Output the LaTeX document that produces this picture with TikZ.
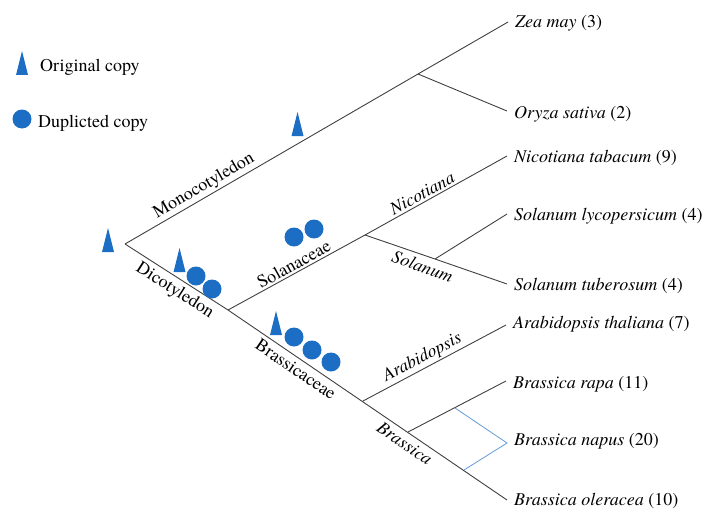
\documentclass[tikz,border=0pt]{standalone}
\usepackage{fontspec}
\setmainfont{texgyretermes}[Extension=.otf, UprightFont=*-regular, ItalicFont=*-italic, BoldFont=*-bold, BoldItalicFont=*-bolditalic]
\definecolor{markblue}{RGB}{28,110,196}
\definecolor{napblue}{RGB}{100,155,215}
\begin{document}
\begin{tikzpicture}[x=1pt,y=-1pt,
 br/.style={draw=black!75, line width=0.9pt},
 nap/.style={draw=napblue, line width=0.8pt},
 sp/.style={anchor=base west, inner sep=0pt, font=\fontsize{18}{20}\selectfont},
 clade/.style={font=\fontsize{18}{20}\selectfont, sloped, inner sep=2pt},
 cladeb/.style={clade, inner sep=4.5pt},
 dup/.style={circle, fill=markblue, minimum size=19pt, inner sep=0pt},
 orig/.pic={\fill[markblue] (-6,0) -- (6,0) -- (0,-24) -- cycle;}
]
\useasboundingbox (0,0) rectangle (711,508);

% internal nodes and tips
\coordinate (root) at (125,244);
\coordinate (mono) at (418,74);
\coordinate (dicot) at (228,310);
\coordinate (sol) at (365,235);
\coordinate (solb) at (435,259);
\coordinate (arab) at (363,401);
\coordinate (bras) at (408,432);
\coordinate (bn1) at (455,408);
\coordinate (bn2) at (464,470);
\coordinate (t1) at (508,22);
\coordinate (t2) at (507,111);
\coordinate (t3) at (507,156);
\coordinate (t4) at (507,214);
\coordinate (t5) at (507,284);
\coordinate (t6) at (506,325);
\coordinate (t7) at (506,381);
\coordinate (t8) at (507,443);
\coordinate (t9) at (507,500);

% branches
\draw[br] (root) -- (mono) -- (t1);
\draw[br] (mono) -- (t2);
\draw[br] (root) -- (dicot) -- (t9);
\draw[br] (dicot) -- (sol) -- (t3);
\draw[br] (sol) -- (solb) -- (t5);
\draw[br] (solb) -- (t4);
\draw[br] (arab) -- (t6);
\draw[br] (bras) -- (t7);
\draw[nap] (bn1) -- (t8) -- (bn2);

% clade labels
\path (root) -- (t1) node[clade, pos=0.22, above] {Monocotyledon};
\path (root) -- (dicot) node[cladeb, pos=0.55, below] {Dicotyledon};
\path (dicot) -- (t3) node[clade, pos=0.25, above] {Solanaceae};
\path (dicot) -- (t9) node[cladeb, pos=0.265, below] {Brassicaceae};
\path (dicot) -- (t3) node[clade, pos=0.71, above] {\itshape Nicotiana};
\path (sol) -- (t5) node[cladeb, pos=0.43, below] {\itshape Solanum};
\path (arab) -- (t6) node[clade, pos=0.45, above] {\itshape Arabidopsis};
\path (dicot) -- (t9) node[cladeb, pos=0.655, below] {\itshape Brassica};

% species labels
\node[sp] (l1) at ([xshift=7pt,yshift=-6pt]t1) {\textit{Zea may} (3)};
\node[sp] (l2) at ([xshift=7pt,yshift=-7pt]t2) {\textit{Oryza sativa} (2)};
\node[sp] (l3) at ([xshift=7pt,yshift=-6pt]t3) {\textit{Nicotiana tabacum} (9)};
\node[sp] (l4) at ([xshift=7pt,yshift=-6pt]t4) {\textit{Solanum lycopersicum} (4)};
\node[sp] (l5) at ([xshift=7pt,yshift=-6pt]t5) {\textit{Solanum tuberosum} (4)};
\node[sp] (l6) at ([xshift=7pt,yshift=-3pt]t6) {\textit{Arabidopsis thaliana} (7)};
\node[sp] (l7) at ([xshift=7pt,yshift=-7pt]t7) {\textit{Brassica rapa} (11)};
\node[sp] (l8) at ([xshift=7pt,yshift=-2pt]t8) {\textit{Brassica napus} (20)};
\node[sp] (l9) at ([xshift=7pt,yshift=-5pt]t9) {\textit{Brassica oleracea} (10)};

% markers
\pic at (108,252) {orig};
\pic at (297.5,136) {orig};
\pic at (179.5,272) {orig};
\pic at (276,335) {orig};
\node[dup] (d1) at (196,276) {};
\node[dup] (d2) at (212,289) {};
\node[dup] (d3) at (294,237) {};
\node[dup] (d4) at (314,229) {};
\node[dup] (d5) at (294,337) {};
\node[dup] (d6) at (312,350) {};
\node[dup] (d7) at (331,362) {};

% legend
\pic at (22,75) {orig};
\node[sp] (lg1) at (40,72) {Original copy};
\node[dup] (lg2) at (22,119) {};
\node[sp] (lg3) at (38,128) {Duplicted copy};
\end{tikzpicture}
\end{document}
